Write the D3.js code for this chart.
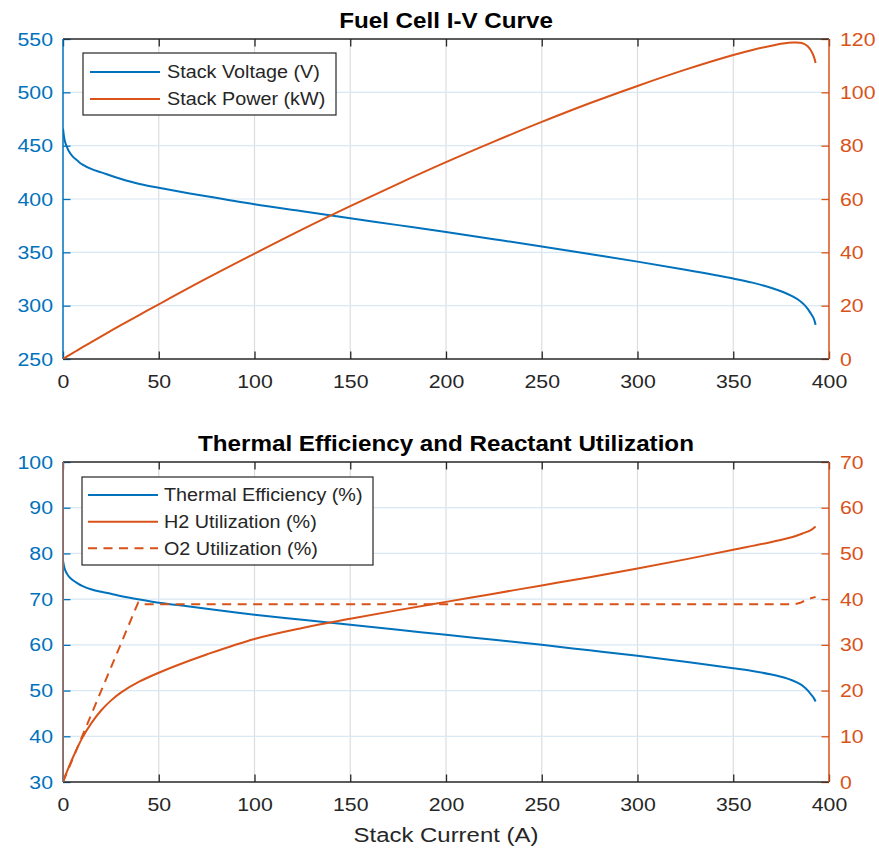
<!DOCTYPE html>
<html><head><meta charset="utf-8">
<script src="https://cdn.jsdelivr.net/npm/d3@7"></script>
<style>
body{margin:0;background:#fff}
svg{display:block}
text{font-family:"Liberation Sans",Arial,Helvetica,sans-serif}
</style>
</head><body><svg id="c" width="879" height="852"></svg>
<script>
// ---------------- data ----------------
const currentTop   = [0, 0.5, 1, 2, 3, 5, 7.5, 10, 15, 20, 30, 40, 50, 75, 100, 125, 150, 175, 200, 225, 250, 275, 300, 325, 350, 360, 370, 376, 381, 385, 387, 389, 390.5, 392, 393];
const stackVoltage = [466, 459, 454, 449, 445, 440, 436, 432.5, 428, 425, 419, 414, 410.5, 402.5, 395, 388.5, 382, 375.5, 369, 362.3, 355.5, 348.5, 341.3, 333.6, 325.4, 321.6, 316.6, 312.8, 308.6, 304.2, 301.0, 296.8, 292.6, 288, 282];
const stackPower   = [0, 0.23, 0.45, 0.9, 1.33, 2.2, 3.27, 4.33, 6.42, 8.5, 12.57, 16.56, 20.5, 30.2, 39.5, 48.6, 57.3, 65.7, 73.8, 81.5, 88.9, 95.9, 102.4, 108.5, 114.0, 115.9, 117.5, 118.3, 118.7, 118.6, 118.2, 117.2, 115.8, 113.6, 111.0];

const currentBottom     = [0, 0.5, 1, 2, 3, 5, 7.5, 10, 15, 20, 25, 30, 40, 50, 60, 75, 100, 125, 150, 175, 200, 225, 250, 275, 300, 325, 350, 360, 370, 376, 381, 385, 387, 389, 390.5, 392, 393];
const thermalEfficiency = [78.5, 77.3, 76.5, 75.6, 75.0, 74.2, 73.5, 72.9, 72.1, 71.6, 71.2, 70.7, 69.9, 69.2, 68.7, 67.9, 66.6, 65.5, 64.4, 63.3, 62.2, 61.1, 60.0, 58.8, 57.6, 56.3, 54.9, 54.3, 53.5, 52.9, 52.2, 51.4, 50.8, 50.0, 49.2, 48.4, 47.6];

const h2Current     = [0, 0, 2, 5, 10, 15, 20, 25, 30, 40, 50, 60, 75, 100, 125, 150, 175, 200, 225, 250, 275, 300, 325, 350, 370, 381, 387, 390.5, 393];
const h2Utilization = [70, 0, 2.2, 5.2, 9.6, 13.0, 15.7, 17.8, 19.5, 22.0, 23.9, 25.6, 27.9, 31.3, 33.7, 35.7, 37.6, 39.4, 41.2, 43.0, 44.8, 46.7, 48.7, 50.8, 52.5, 53.6, 54.5, 55.1, 55.9];

const o2Current     = [0, 39.3, 42, 382, 385, 389, 393];
const o2Utilization = [0, 39.3, 38.9, 38.9, 39.2, 40.0, 40.5];

const xTicks           = [0, 50, 100, 150, 200, 250, 300, 350, 400];
const voltageTicks     = [250, 300, 350, 400, 450, 500, 550];
const powerTicks       = [0, 20, 40, 60, 80, 100, 120];
const efficiencyTicks  = [30, 40, 50, 60, 70, 80, 90, 100];
const utilizationTicks = [0, 10, 20, 30, 40, 50, 60, 70];

const titles       = ["Fuel Cell I-V Curve", "Thermal Efficiency and Reactant Utilization"];
const xLabel       = "Stack Current (A)";
const legendTop    = ["Stack Voltage (V)", "Stack Power (kW)"];
const legendBottom = ["Thermal Efficiency (%)", "H2 Utilization (%)", "O2 Utilization (%)"];

// ---------------- drawing ----------------
const BLUE = "#0072BD", ORANGE = "#D95319", DARK = "#262626";
const svg = d3.select("#c");
const L = 63, R = 829, CX = (L + R) / 2;
const x = d3.scaleLinear().domain([0, 400]).range([L, R]);

function stretch(sel, s) {
  sel.each(function () {
    const t = d3.select(this);
    const tx = +t.attr("x") || 0;
    t.attr("transform", `translate(${tx},0) scale(${s},1) translate(${-tx},0)`);
  });
}

function panel(cfg) {
  const { id, top, bottom, leftTicks, rightTicks, title, titleY, series, legend } = cfg;
  const yL = d3.scaleLinear().domain(d3.extent(leftTicks)).range([bottom, top]);
  const yR = d3.scaleLinear().domain(d3.extent(rightTicks)).range([bottom, top]);
  const g = svg.append("g");

  svg.append("defs").append("clipPath").attr("id", "clip" + id)
    .append("rect").attr("x", L).attr("y", top).attr("width", R - L).attr("height", bottom - top);

  // grid
  g.append("g").selectAll("line").data(xTicks.slice(1, -1)).join("line")
    .attr("x1", d => x(d)).attr("x2", d => x(d)).attr("y1", top).attr("y2", bottom)
    .attr("stroke", "#dcdddf").attr("stroke-width", 1.2);
  g.append("g").selectAll("line").data(leftTicks.slice(1, -1)).join("line")
    .attr("x1", L).attr("x2", R).attr("y1", d => yL(d)).attr("y2", d => yL(d))
    .attr("stroke", "#d8e8f4").attr("stroke-width", 1.2);

  // axes
  const ax = g.append("g");
  const bx = ax.append("g").attr("transform", `translate(0,${bottom})`)
    .call(d3.axisBottom(x).tickValues(xTicks).tickSizeInner(-7.5).tickSizeOuter(0).tickPadding(16));
  const tx = ax.append("g").attr("transform", `translate(0,${top})`)
    .call(d3.axisTop(x).tickValues(xTicks).tickSizeInner(-7.5).tickSizeOuter(0).tickFormat(""));
  const ly = ax.append("g").attr("transform", `translate(${L},0)`)
    .call(d3.axisLeft(yL).tickValues(leftTicks).tickSizeInner(-7.5).tickSizeOuter(0).tickPadding(10));
  const ry = ax.append("g").attr("transform", `translate(${R},0)`)
    .call(d3.axisRight(yR).tickValues(rightTicks).tickSizeInner(-7.5).tickSizeOuter(0).tickPadding(11));
  ax.selectAll(".domain").remove();
  ax.selectAll("text").attr("font-size", 19).attr("font-family", '"Liberation Sans",Arial,sans-serif');
  bx.selectAll("line").attr("stroke", DARK).attr("stroke-width", 1.3);
  tx.selectAll("line").attr("stroke", DARK).attr("stroke-width", 1.3);
  bx.selectAll("text").attr("fill", DARK);
  ly.selectAll("line").attr("stroke", BLUE).attr("stroke-width", 1.3);
  ly.selectAll("text").attr("fill", BLUE);
  ry.selectAll("line").attr("stroke", ORANGE).attr("stroke-width", 1.3);
  ry.selectAll("text").attr("fill", ORANGE);
  stretch(ax.selectAll("text"), 1.12);

  // box
  ax.append("line").attr("x1", L).attr("x2", R).attr("y1", top).attr("y2", top).attr("stroke", DARK).attr("stroke-width", 1.3);
  ax.append("line").attr("x1", L).attr("x2", R).attr("y1", bottom).attr("y2", bottom).attr("stroke", DARK).attr("stroke-width", 1.3);
  ax.append("line").attr("x1", L).attr("x2", L).attr("y1", top).attr("y2", bottom).attr("stroke", BLUE).attr("stroke-width", 1.5);
  ax.append("line").attr("x1", R).attr("x2", R).attr("y1", top).attr("y2", bottom).attr("stroke", ORANGE).attr("stroke-width", 1.5);

  // data
  const dg = g.append("g").attr("clip-path", `url(#clip${id})`);
  series.forEach(s => {
    const ys = s.side === "left" ? yL : yR;
    const pts = s.xs.map((v, i) => [v, s.ys[i]]);
    const straight = d3.line().x(d => x(d[0])).y(d => ys(d[1]));
    const smooth = d3.line().x(d => x(d[0])).y(d => ys(d[1])).curve(d3.curveCatmullRom.alpha(0.5));
    const runs = [];
    let cur = [pts[0]];
    for (let i = 1; i < pts.length; i++) {
      if (pts[i][0] === pts[i - 1][0]) {
        dg.append("path").datum([pts[i - 1], pts[i]]).attr("d", straight)
          .attr("fill", "none").attr("stroke", s.color).attr("stroke-width", 2);
        runs.push(cur); cur = [pts[i]];
      } else cur.push(pts[i]);
    }
    runs.push(cur);
    runs.filter(r => r.length > 1).forEach(r => {
      dg.append("path").datum(r)
        .attr("d", s.dash ? straight : smooth)
        .attr("fill", "none").attr("stroke", s.color).attr("stroke-width", 2)
        .attr("stroke-linejoin", "round")
        .attr("stroke-dasharray", s.dash || null);
    });
  });

  // title
  const tt = g.append("text").attr("x", CX).attr("y", titleY).attr("text-anchor", "middle")
    .attr("font-size", 22).attr("font-weight", "bold").attr("fill", "#000").text(title);
  stretch(tt, 1.1);

  // legend
  const lg = g.append("g");
  lg.append("rect").attr("x", legend.x0).attr("y", legend.y0)
    .attr("width", legend.x1 - legend.x0).attr("height", legend.y1 - legend.y0)
    .attr("fill", "#fff").attr("stroke", DARK).attr("stroke-width", 1.2);
  legend.labels.forEach((lab, i) => {
    const cy = legend.rows[i];
    const s = series[legend.map[i]];
    lg.append("line").attr("x1", legend.lx0).attr("x2", legend.lx1).attr("y1", cy).attr("y2", cy)
      .attr("stroke", s.color).attr("stroke-width", 2).attr("stroke-dasharray", s.dash || null);
    const t = lg.append("text").attr("x", legend.tx).attr("y", cy + 6.5)
      .attr("font-size", 18.5).attr("fill", DARK).text(lab);
    stretch(t, 1.07);
  });
}

panel({
  id: 1, top: 39, bottom: 359,
  leftTicks: voltageTicks, rightTicks: powerTicks,
  title: titles[0], titleY: 28.5,
  series: [
    { xs: currentTop, ys: stackVoltage, side: "left", color: BLUE },
    { xs: currentTop, ys: stackPower, side: "right", color: ORANGE }
  ],
  legend: { x0: 83, x1: 336, y0: 53, y1: 115, rows: [72, 99], lx0: 90, lx1: 160, tx: 167, labels: legendTop, map: [0, 1] }
});

panel({
  id: 2, top: 462, bottom: 782,
  leftTicks: efficiencyTicks, rightTicks: utilizationTicks,
  title: titles[1], titleY: 451.5,
  series: [
    { xs: currentBottom, ys: thermalEfficiency, side: "left", color: BLUE },
    { xs: h2Current, ys: h2Utilization, side: "right", color: ORANGE },
    { xs: o2Current, ys: o2Utilization, side: "right", color: ORANGE, dash: "9,6.5" }
  ],
  legend: { x0: 82, x1: 373, y0: 477, y1: 565, rows: [495, 521.7, 548.3], lx0: 88, lx1: 158, tx: 164, labels: legendBottom, map: [0, 1, 2] }
});

const xl = svg.append("text").attr("x", CX).attr("y", 842).attr("text-anchor", "middle")
  .attr("font-size", 21).attr("fill", DARK).text(xLabel);
stretch(xl, 1.14);
</script>
</body></html>
